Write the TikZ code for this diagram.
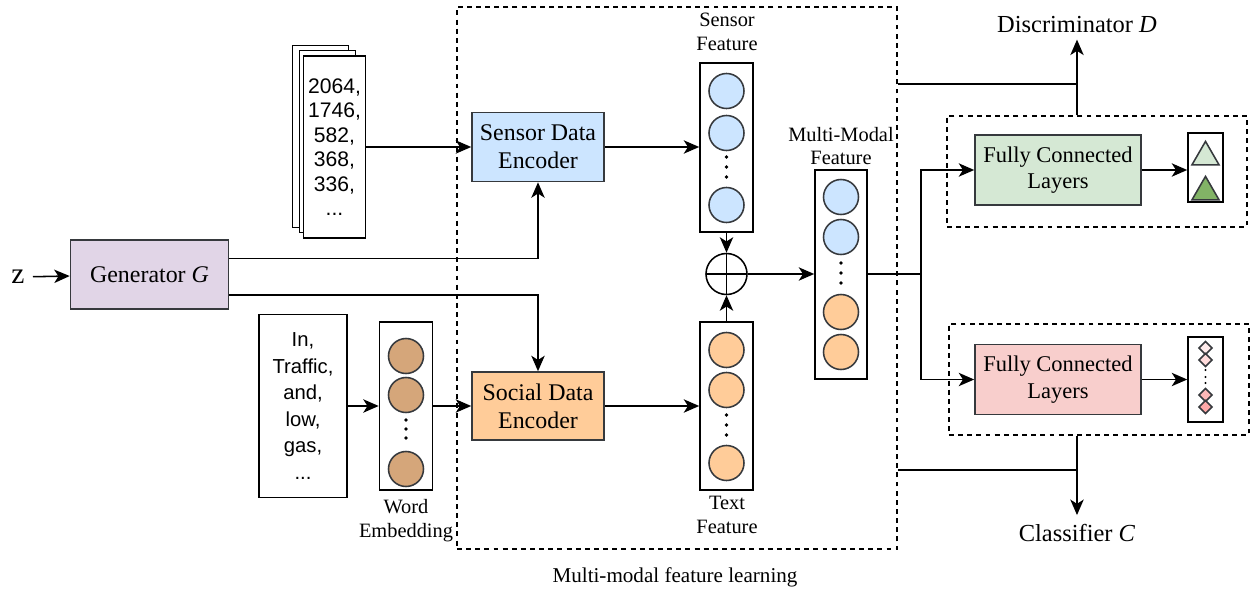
\documentclass[tikz,border=0pt]{standalone}
\usepackage{fontspec}
\setmainfont{Liberation Serif}
\newfontfamily\arialfont{Liberation Sans}
\usetikzlibrary{arrows.meta,shapes.geometric}

\definecolor{edge}{HTML}{36393D}
\definecolor{sblue}{HTML}{CCE5FF}
\definecolor{sorange}{HTML}{FFCC99}
\definecolor{gpurple}{HTML}{E1D5E7}
\definecolor{fcgreen}{HTML}{D5E8D4}
\definecolor{fcpink}{HTML}{F8CECC}
\definecolor{wtan}{HTML}{D5A67A}
\definecolor{dgreen}{HTML}{82B366}

\begin{document}
\begin{tikzpicture}[
		x=0.025cm,y=-0.025cm,
		line width=1.1pt,
		inp/.style = {-{Stealth[length=11pt,width=9.5pt,inset=3pt]}},
		block/.style = {draw=edge, align=center, inner sep=0, font=\fontsize{17}{20}\selectfont},
		fcblock/.style = {draw=edge, align=center, inner sep=0, minimum width=4.15cm, minimum height=1.74cm, font=\fontsize{16}{19}\selectfont},
		vector/.style = {draw, inner sep=0, minimum width=1.325cm},
		unit/.style = {circle, draw=edge, inner sep=0, minimum size=0.875cm},
		lab/.style = {align=center, font=\fontsize{14.5}{17}\selectfont},
		group/.style = {draw, line width=1pt, dash pattern=on 3.5pt off 3pt, inner sep=0},
		outbox/.style = {draw, inner sep=0, minimum width=0.875cm},
		sum/.style = {circle, draw, inner sep=0, minimum size=1.025cm,
			path picture={\draw (path picture bounding box.north) -- (path picture bounding box.south)
				(path picture bounding box.west) -- (path picture bounding box.east);}}
	]
	\useasboundingbox (0,0) rectangle (1252,592);

	% groups
	\node (learn) [group, minimum width=11cm, minimum height=13.55cm] at (677,278) {};
	\node (gdash) [group, minimum width=7.5cm, minimum height=2.775cm] at (1097,171.5) {};
	\node (pdash) [group, minimum width=7.5cm, minimum height=2.775cm] at (1099,379.5) {};
	\node (caption) [font=\fontsize{15}{18}\selectfont] at (675,577) {Multi-modal feature learning};

	% generator
	\node (z) [inner sep=2pt, outer sep=4pt, font=\fontsize{21}{21}\selectfont] at (18,277) {z};
	\node (gen) [block, fill=gpurple, minimum width=3.95cm, minimum height=1.725cm] at (149.5,274.5) {Generator \textit{G}};

	% inputs
	\foreach \dx/\dy [count=\i] in {-14/-10.5,-7/-5.5}
		\node (page\i) [draw, fill=white, minimum width=1.4cm, minimum height=4.55cm] at (334.5+\dx,147+\dy) {};
	\node (page3) [draw, fill=white, align=center, minimum width=1.4cm, minimum height=4.55cm,
		font=\arialfont\fontsize{15}{17.4}\selectfont] at (334.5,147) {2064,\\1746,\\582,\\368,\\336,\\...};
	\node (words) [draw, align=center, minimum width=2.2cm, minimum height=4.575cm,
		font=\arialfont\fontsize{14.4}{18.9}\selectfont] at (303,406) {In,\\Traffic,\\and,\\low,\\gas,\\...};

	% word embedding
	\node (wemb) [vector, minimum height=4.2cm] at (406,406) {};
	\foreach \y [count=\i] in {356,395,469}
		\node (w\i) [unit, fill=wtan] at (406,\y) {};
	\foreach \y in {420,429,438}
		\fill (406,\y) circle (0.045cm);
	\node (wlab) [lab] at (406,521) {Word\\Embedding};

	% encoders
	\node (senc) [block, fill=sblue, minimum width=3.3cm, minimum height=1.725cm] at (538,147) {Sensor Data\\Encoder};
	\node (soenc) [block, fill=sorange, minimum width=3.3cm, minimum height=1.7cm] at (538,406) {Social Data\\Encoder};

	% features
	\node (sfeat) [vector, minimum height=4.225cm] at (726.5,147.5) {};
	\foreach \y [count=\i] in {91,133,205}
		\node (s\i) [unit, fill=sblue] at (726.5,\y) {};
	\foreach \y in {157,167,177}
		\fill (726.5,\y) circle (0.045cm);
	\node (sflab) [lab] at (727,32) {Sensor\\Feature};

	\node (tfeat) [vector, minimum height=4.2cm] at (726.5,406) {};
	\foreach \y [count=\i] in {350,390,463}
		\node (t\i) [unit, fill=sorange] at (726.5,\y) {};
	\foreach \y in {415,425,435}
		\fill (726.5,\y) circle (0.045cm);
	\node (tflab) [lab] at (727,515) {Text\\Feature};

	\node (plus) [sum] at (726.5,274) {};

	\node (mmf) [vector, minimum width=1.3cm, minimum height=5.225cm] at (841,274.5) {};
	\foreach \y/\c [count=\i] in {197/sblue,237/sblue,312/sorange,352/sorange}
		\node (m\i) [unit, fill=\c] at (841,\y) {};
	\foreach \y in {263,273,283}
		\fill (841,\y) circle (0.045cm);
	\node (mmlab) [lab] at (841,146) {Multi-Modal\\Feature};

	% heads
	\node (fcg) [fcblock, fill=fcgreen] at (1058,170) {Fully Connected\\Layers};
	\node (outg) [outbox, minimum height=1.725cm] at (1205.5,167.5) {};
	\node (tri1) [regular polygon, regular polygon sides=3, draw=edge, fill=fcgreen, inner sep=0, minimum size=0.78cm] at (1205.5,157) {};
	\node (tri2) [regular polygon, regular polygon sides=3, draw=edge, fill=dgreen, inner sep=0, minimum size=0.78cm] at (1205.5,192) {};

	\node (fcp) [fcblock, fill=fcpink] at (1058,379.5) {Fully Connected\\Layers};
	\node (outp) [outbox, minimum height=2.125cm] at (1205.5,379.5) {};
	\foreach \y/\c [count=\i] in {348/red!8,360/red!14,395/red!28,407/red!34}
		\node (d\i) [diamond, draw=edge, fill=\c, inner sep=0, minimum size=0.34cm] at (1205.5,\y) {};
	\foreach \y in {370,377,383}
		\fill (1205.5,\y) circle (0.03cm);

	\node (disc) [inner sep=4pt, font=\fontsize{17.4}{20}\selectfont] at (1077,25) {Discriminator \textit{D}};
	\node (cls) [inner sep=6pt, font=\fontsize{17.4}{20}\selectfont] at (1077,533) {Classifier \textit{C}};
	\coordinate (dtap) at (1077,84);
	\coordinate (ctap) at (1077,470);
	\coordinate (split) at (921,274);

	% connectors
	\path [inp] (z) edge (gen);
	\draw [inp] ([yshift=0.4cm]gen.east) -| (senc.south);
	\draw [inp] ([yshift=-0.51cm]gen.east) -| (soenc.north);
	\path [inp] (page3) edge (senc);
	\path [inp] (senc) edge (sfeat.west |- senc);
	\path [inp] (words) edge (wemb);
	\path [inp] (wemb) edge (soenc);
	\path [inp] (soenc) edge (tfeat);
	\path [inp] (sfeat) edge (plus);
	\path [inp] (tfeat) edge (plus);
	\draw [inp] (plus.east) -- (plus.east -| mmf.west);
	\draw (mmf.east |- split) -- (split);
	\draw [inp] (split) |- (fcg.west);
	\draw [inp] (split) |- (fcp.west);
	\draw [inp] (fcg.east) -- (fcg.east -| outg.west);
	\draw [inp] (fcp.east) -- (fcp.east -| outp.west);
	\draw (learn.east |- dtap) -- (dtap);
	\draw [inp] (gdash.north -| dtap) -- (disc.south);
	\draw (learn.east |- ctap) -- (ctap);
	\draw [inp] (pdash.south -| ctap) -- (cls.north);
\end{tikzpicture}
\end{document}
